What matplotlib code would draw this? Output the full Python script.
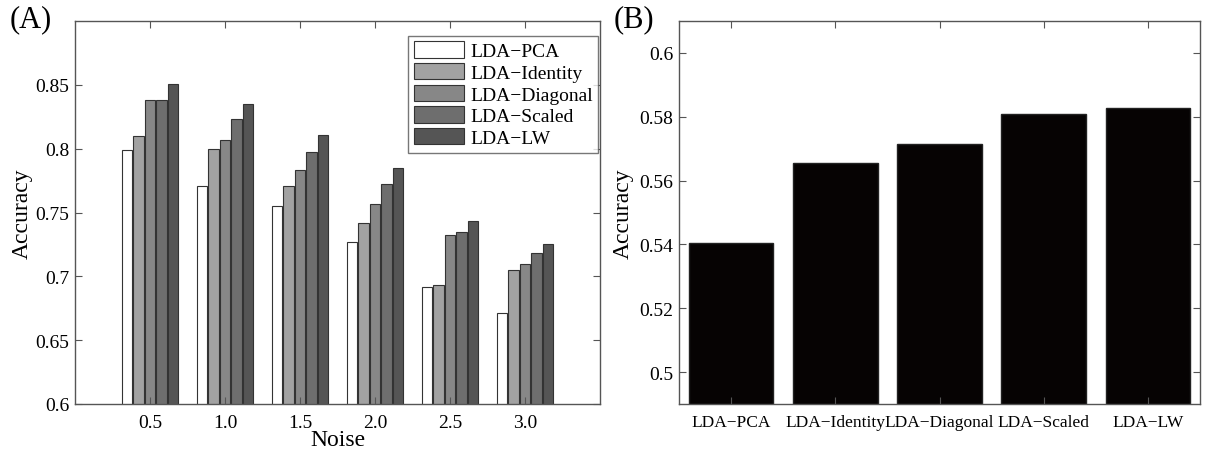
import matplotlib.pyplot as plt
import numpy as np

plt.rcParams['font.family'] = ['Liberation Serif', 'DejaVu Serif']

# Panel A data
noise = [0.5, 1.0, 1.5, 2.0, 2.5, 3.0]
noise_labels = ['0.5', '1.0', '1.5', '2.0', '2.5', '3.0']
methods = ['LDA\u2212PCA', 'LDA\u2212Identity', 'LDA\u2212Diagonal', 'LDA\u2212Scaled', 'LDA\u2212LW']
acc_pca = [0.799, 0.771, 0.755, 0.727, 0.692, 0.671]
acc_identity = [0.810, 0.800, 0.771, 0.742, 0.693, 0.705]
acc_diagonal = [0.838, 0.807, 0.783, 0.757, 0.732, 0.710]
acc_scaled = [0.838, 0.823, 0.797, 0.772, 0.735, 0.718]
acc_lw = [0.851, 0.835, 0.811, 0.785, 0.743, 0.725]

# Panel B data
acc_b = [0.5405, 0.5655, 0.5715, 0.5808, 0.5828]

colors = ['#ffffff', '#a2a2a2', '#878787', '#6e6e6e', '#555555']

fig = plt.figure(figsize=(12.05, 4.52), dpi=100)
axA = fig.add_axes([75/1205, 1-405/452, 525/1205, 383/452])
axB = fig.add_axes([679/1205, 1-405/452, 521/1205, 383/452])

series = [acc_pca, acc_identity, acc_diagonal, acc_scaled, acc_lw]
step = 0.077
w = 0.07
x = np.array(noise)
for i, (vals, c, lab) in enumerate(zip(series, colors, methods)):
    axA.bar(x + (i - 2) * step, vals, width=w, color=c, edgecolor='#333333',
            linewidth=0.8, label=lab)

axA.set_xlim(0, 3.5)
axA.set_ylim(0.6, 0.9)
axA.set_xticks(noise)
axA.set_xticklabels(noise_labels)
axA.set_yticks([0.6, 0.65, 0.7, 0.75, 0.8, 0.85])
axA.set_yticklabels(['0.6', '0.65', '0.7', '0.75', '0.8', '0.85'])
axA.set_xlabel('Noise', fontsize=17, labelpad=-1)
axA.set_ylabel('Accuracy', fontsize=17, labelpad=2)
leg = axA.legend(loc='upper right', bbox_to_anchor=(0.997, 0.962), fontsize=14,
                 frameon=True, fancybox=False, edgecolor='#555555',
                 handlelength=2.6, handleheight=0.9, borderpad=0.3,
                 labelspacing=0.15, handletextpad=0.3, borderaxespad=0.0)
leg.get_frame().set_linewidth(1.0)

pos = np.arange(1, len(acc_b) + 1)
axB.bar(pos, acc_b, width=0.81, color='#060303', edgecolor='#222222')
axB.set_xlim(0.5, 5.5)
axB.set_ylim(0.49, 0.61)
axB.set_xticks(pos)
axB.set_xticklabels(methods)
axB.set_yticks([0.5, 0.52, 0.54, 0.56, 0.58, 0.6])
axB.set_yticklabels(['0.5', '0.52', '0.54', '0.56', '0.58', '0.6'])
axB.set_ylabel('Accuracy', fontsize=17, labelpad=4)

for ax in (axA, axB):
    ax.tick_params(direction='in', top=True, right=True, labelsize=14,
                   length=5, color='#555555', pad=7)
    ax.tick_params(axis='y', pad=4)
    for s in ax.spines.values():
        s.set_color('#555555')
        s.set_linewidth(1.0)
axB.tick_params(axis='x', labelsize=12.5)

fig.text(10/1205, 1-20/452, '(A)', fontsize=22, va='center', ha='left')
fig.text(614/1205, 1-20/452, '(B)', fontsize=22, va='center', ha='left')

fig.savefig('out.png', dpi=100)
